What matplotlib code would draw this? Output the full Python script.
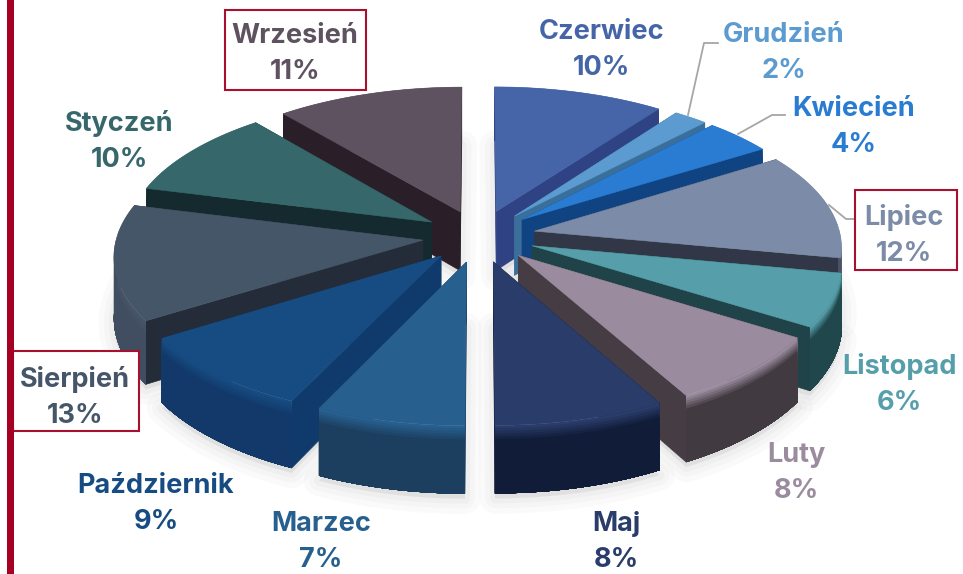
import numpy as np
import matplotlib
matplotlib.use("Agg")
import matplotlib.pyplot as plt
from matplotlib.colors import to_rgb
from matplotlib.patches import Polygon, Rectangle

months = ["Czerwiec", "Grudzień", "Kwiecień", "Lipiec", "Listopad", "Luty", "Maj",
          "Marzec", "Październik", "Sierpień", "Styczeń", "Wrzesień"]
shares = [10, 2, 4, 12, 6, 8, 8, 7, 9, 13, 10, 11]
top_colors = ["#4565A8", "#5B9BD0", "#2A7BD2", "#7B8BA8", "#569FAA", "#9A8C9E",
              "#2A3C6A", "#27608F", "#174C82", "#465669", "#36686B", "#5E5160"]
wall_colors = ["#2F4283", "#3A6F9B", "#0F4381", "#313746", "#1F4348", "#453C44",
               "#0F1A34", "#1B3C5C", "#103A6B", "#232C38", "#142A2E", "#2A1F28"]
arc_colors = ["#2F4283", "#3A6F9B", "#0F4381", "#4A5266", "#20474B", "#423A41",
              "#101C38", "#1C3F60", "#12396A", "#414D60", "#142A2E", "#2A1F28"]
boxed = {"Wrzesień": (225, 10, 366, 90), "Sierpień": (13, 351, 139, 431), "Lipiec": (855, 190, 957, 270)}
label_xy = {"Czerwiec": (602, 28), "Grudzień": (784, 31), "Kwiecień": (854, 105), "Lipiec": (904, 214),
            "Listopad": (899, 363), "Luty": (796, 451), "Maj": (616, 520), "Marzec": (321, 520),
            "Październik": (156, 482), "Sierpień": (75, 376), "Styczeń": (119, 120), "Wrzesień": (295, 32)}
leaders = [[(688, 115), (704, 43), (718, 43)], [(738, 134), (772, 115), (785, 115)],
           [(829, 205), (846, 219), (855, 219)]]

CX, CY, R0, K, PERSP, EXPL, DEPTH = 479, 236, 306, 0.463, 0.10, 0.185, 60

plt.rcParams["font.family"] = ["Inter", "DejaVu Sans"]
fig = plt.figure(figsize=(9.63, 5.74), dpi=100)
ax = fig.add_axes([0, 0, 1, 1])
ax.set_xlim(0, 963)
ax.set_ylim(574, 0)
ax.axis("off")


def proj(X, Y, z=0.0):
    X, Y = np.asarray(X, float), np.asarray(Y, float)
    s = 1 / (1 - PERSP * Y)
    return np.column_stack([CX + R0 * X * s, CY + R0 * K * Y * s + DEPTH * z * s])


def blend(a, b, t):
    a, b = np.array(to_rgb(a)), np.array(to_rgb(b))
    return tuple(a + (b - a) * t)


edges = np.cumsum([0] + shares) / sum(shares) * 2 * np.pi
slices = []
for i in range(len(shares)):
    a0, a1 = edges[i], edges[i + 1]
    mid = (a0 + a1) / 2
    ox, oy = EXPL * np.sin(mid), -EXPL * np.cos(mid)
    th = np.linspace(a0, a1, max(8, int((a1 - a0) * 40)))
    X = ox + np.sin(th)
    Y = oy - np.cos(th)
    slices.append((i, ox, oy, X, Y, mid, th))

# soft ground shadow
for i, ox, oy, X, Y, mid, th in slices:
    gx = np.r_[ox, X]
    gy = np.r_[oy, Y]
    pts = proj(gx, gy, 1.0) + np.array([0, 5])
    for lw, al in [(22, 0.035), (14, 0.04), (7, 0.05)]:
        ax.add_patch(Polygon(pts, closed=True, fc="#888888", ec="#888888", lw=lw, alpha=al,
                             joinstyle="round", zorder=1))

order = sorted(slices, key=lambda s: s[2] + 0.6 * -np.cos(s[5]))
zo = 2.0


def draw_arc(mask, top, arc):
    global zo
    if mask.sum() < 2:
        return
    xa, ya = X[mask], Y[mask]
    zs = np.linspace(0, 1, 26)
    for z0 in zs[:-1]:
        t = min(1.0, z0 / 0.2)
        col = blend(top, arc, t)
        q = np.vstack([proj(xa, ya, z0), proj(xa[::-1], ya[::-1], 1.0)])
        ax.add_patch(Polygon(q, closed=True, fc=col, ec="none", zorder=zo))
        zo += 0.001


for i, ox, oy, X, Y, mid, th in order:
    top = top_colors[i]
    wall = wall_colors[i]
    arc = arc_colors[i]
    front = -np.cos(th) > -0.02
    # part of the rim that faces away, then radial walls, then the part that faces the viewer
    draw_arc(~front, top, arc)
    walls = [(np.array([ox, X[0]]), np.array([oy, Y[0]])), (np.array([ox, X[-1]]), np.array([oy, Y[-1]]))]
    walls.sort(key=lambda w: w[1].mean())
    for wx, wy in walls:
        q = np.vstack([proj(wx, wy, 0), proj(wx[::-1], wy[::-1], 1)])
        ax.add_patch(Polygon(q, closed=True, fc=wall, ec=wall, lw=0.4, zorder=zo))
        zo += 0.01
    draw_arc(front, top, arc)
    q = proj(np.r_[ox, X], np.r_[oy, Y], 0)
    ax.add_patch(Polygon(q, closed=True, fc=top, ec=top, lw=0.4, zorder=zo))
    zo += 0.01

for line in leaders:
    xs, ys = zip(*line)
    ax.plot(xs, ys, color="#A6A6A6", lw=1.3, zorder=50)

ax.add_patch(Rectangle((7, -2), 7, 580, fc="#A50021", ec="none", zorder=60))
for name, (x0, y0, x1, y1) in boxed.items():
    ax.add_patch(Rectangle((x0, y0), x1 - x0, y1 - y0, fc="white", ec="#A8102F", lw=1.5, zorder=55))

for name, share, col in zip(months, shares, top_colors):
    x, y = label_xy[name]
    ax.text(x, y + 11, name, color=col, fontsize=19.5, fontweight="bold", ha="center", va="baseline", zorder=70)
    ax.text(x, y + 47, f"{share}%", color=col, fontsize=19.5, fontweight="bold", ha="center", va="baseline", zorder=70)

fig.savefig("out.png", dpi=100)
